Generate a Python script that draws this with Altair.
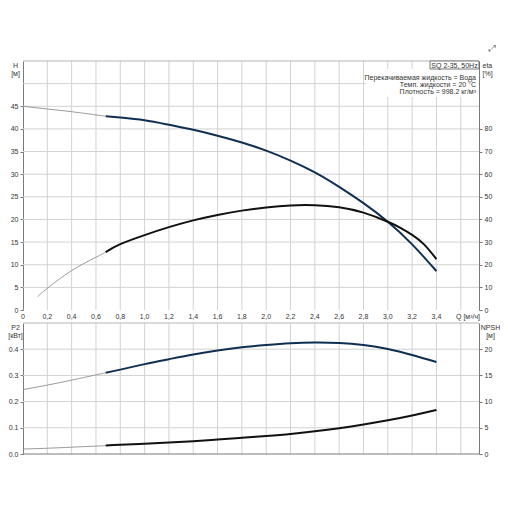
import altair as alt
import pandas as pd

# ---------------- data ----------------
Q_H = [0.0, 0.2, 0.4, 0.6, 0.68, 0.8, 1.0, 1.2, 1.4, 1.6, 1.8, 2.0, 2.2, 2.4, 2.6, 2.8, 3.0, 3.2, 3.4]
H_M = [45.0, 44.4, 43.8, 43.1, 42.8, 42.5, 41.9, 40.9, 39.8, 38.5, 37.0, 35.2, 33.0, 30.4, 27.2, 23.6, 19.5, 14.5, 8.6]

Q_ETA = [0.12, 0.2, 0.4, 0.6, 0.68, 0.8, 1.0, 1.2, 1.4, 1.6, 1.8, 2.0, 2.2, 2.4, 2.6, 2.8, 3.0, 3.1, 3.2, 3.3, 3.4]
ETA = [5.9, 9.6, 17.4, 23.3, 25.6, 29.1, 33.1, 36.6, 39.6, 42.0, 43.9, 45.3, 46.2, 46.3, 45.4, 43.0, 39.0, 36.4, 33.2, 28.9, 22.5]

Q_P = [0.0, 0.2, 0.4, 0.6, 0.68, 0.8, 1.0, 1.2, 1.4, 1.6, 1.8, 2.0, 2.2, 2.4, 2.6, 2.8, 3.0, 3.2, 3.4]
P2_KW = [0.246, 0.263, 0.282, 0.302, 0.310, 0.322, 0.343, 0.362, 0.380, 0.395, 0.407, 0.416, 0.423, 0.426, 0.424, 0.416, 0.401, 0.378, 0.351]
NPSH_M = [0.95, 1.1, 1.3, 1.5, 1.6, 1.75, 1.95, 2.2, 2.45, 2.75, 3.08, 3.43, 3.82, 4.33, 4.93, 5.63, 6.43, 7.35, 8.4]

Q_OPERATING_START = 0.68

Q_GRID = [round(i * 0.2, 1) for i in range(1, 19)]      # 0.2 .. 3.6
Q_TICKS = [round(i * 0.2, 1) for i in range(0, 19)]     # 0 .. 3.6
Q_LABEL_POS = [round(i * 0.2, 1) for i in range(0, 18)]  # 0 .. 3.4
Q_LABELS = ["0", "0,2", "0,4", "0,6", "0,8", "1,0", "1,2", "1,4", "1,6", "1,8",
            "2,0", "2,2", "2,4", "2,6", "2,8", "3,0", "3,2", "3,4"]
H_GRID = [5, 10, 15, 20, 25, 30, 35, 40, 45, 50]
H_TICKS = [0, 5, 10, 15, 20, 25, 30, 35, 40, 45]
ETA_TICKS = [0, 10, 20, 30, 40, 50, 60, 70, 80]
P_GRID = [0.1, 0.2, 0.3, 0.4]
P_TICKS = [0.0, 0.1, 0.2, 0.3, 0.4]
NPSH_TICKS = [0, 5, 10, 15, 20]

TITLE_BOX = "SQ 2-35, 50Hz"
INFO = "Перекачиваемая жидкость = Вода\nТемп. жидкости = 20 °C\nПлотность = 998.2 кг/м³"

# ---------------- styling ----------------
FONT = "Liberation Sans"
FS = 7
GRID_C = "#d2d2d2"
AXIS_C = "#7a7a7a"
LABEL_C = "#333333"
NAVY = "#0f2f52"
BLACK = "#111111"
THIN_C = "#8f8f8f"

W, H = 456, 393
TOP_H = 249
BOT_TOP = 262

QMAX = 3.75


def xsc():
    return alt.Scale(domain=[0, QMAX], nice=False, zero=False)


def hs():
    return alt.Scale(domain=[0, 55], range=[TOP_H, 0], nice=False, zero=False)


def es():
    return alt.Scale(domain=[0, 110], range=[TOP_H, 0], nice=False, zero=False)


def ps():
    return alt.Scale(domain=[0, 0.5], range=[H, BOT_TOP], nice=False, zero=False)


def ns():
    return alt.Scale(domain=[0, 25], range=[H, BOT_TOP], nice=False, zero=False)


axis_common = dict(grid=False, tickSize=3, labelPadding=2, domainColor=AXIS_C, tickColor=AXIS_C,
                   labelFontSize=FS, labelColor=LABEL_C, labelFont=FONT, titleFont=FONT,
                   titleFontSize=FS, titleFontWeight="normal", titleColor=LABEL_C,
                   titleAngle=0, titleBaseline="top", titleLineHeight=8)

x_axis = alt.Axis(values=Q_TICKS, orient="bottom", offset=-(H - TOP_H), title=None, labels=False,
                  grid=False, tickSize=3, domainColor=AXIS_C, tickColor=AXIS_C)

h_axis = alt.Axis(values=H_TICKS, orient="left", title=["H", "[м]"], titleAlign="center", titleX=-8, titleY=0, **axis_common)
e_axis = alt.Axis(values=ETA_TICKS, orient="right", title=["eta", "[%]"], titleAlign="left", titleX=3, titleY=0, **axis_common)
p_axis = alt.Axis(values=P_TICKS, orient="left", format=".1f", title=["P2", "[кВт]"], titleAlign="center", titleX=-8, titleY=BOT_TOP, **axis_common)
n_axis = alt.Axis(values=NPSH_TICKS, orient="right", title=["NPSH", "[м]"], titleAlign="center", titleX=11, titleY=BOT_TOP, **axis_common)


def curve(q, v, field, scale_fn, axis, color, with_x_axis=False):
    df = pd.DataFrame({"Q": q, field: v})
    thin = df[df["Q"] <= Q_OPERATING_START]
    thick = df[df["Q"] >= Q_OPERATING_START]
    thin_l = alt.Chart(thin).mark_line(color=THIN_C, strokeWidth=0.9, interpolate="natural").encode(
        x=alt.X("Q:Q", scale=xsc(), axis=None),
        y=alt.Y(f"{field}:Q", scale=scale_fn(), axis=None),
    )
    thick_l = alt.Chart(thick).mark_line(color=color, strokeWidth=2, interpolate="natural").encode(
        x=alt.X("Q:Q", scale=xsc(), axis=x_axis if with_x_axis else None),
        y=alt.Y(f"{field}:Q", scale=scale_fn(), axis=axis),
    )
    return thin_l, thick_l


def vgrid(scale_fn, lo, hi):
    df = pd.DataFrame({"Q": Q_GRID, "lo": [lo] * len(Q_GRID), "hi": [hi] * len(Q_GRID)})
    return alt.Chart(df).mark_rule(color=GRID_C, strokeWidth=1).encode(
        x=alt.X("Q:Q", scale=xsc(), axis=None),
        y=alt.Y("lo:Q", scale=scale_fn(), axis=None),
        y2="hi:Q",
    )


def hgrid(scale_fn, vals, color=GRID_C):
    df = pd.DataFrame({"v": vals, "x0": [0.0] * len(vals), "x1": [QMAX] * len(vals)})
    return alt.Chart(df).mark_rule(color=color, strokeWidth=1).encode(
        y=alt.Y("v:Q", scale=scale_fn(), axis=None),
        x=alt.X("x0:Q", scale=xsc(), axis=None),
        x2="x1:Q",
    )


one = pd.DataFrame({"a": [0]})

h_thin, h_thick = curve(Q_H, H_M, "H", hs, h_axis, NAVY, with_x_axis=True)
e_thin, e_thick = curve(Q_ETA, ETA, "eta", es, e_axis, BLACK)
p_thin, p_thick = curve(Q_P, P2_KW, "P2", ps, p_axis, NAVY)
n_thin, n_thick = curve(Q_P, NPSH_M, "NPSH", ns, n_axis, BLACK)

x_labels = alt.Chart(pd.DataFrame({"Q": Q_LABEL_POS, "lab": Q_LABELS})).mark_text(
    align="center", baseline="middle", font=FONT, fontSize=FS, color=LABEL_C).encode(
    x=alt.X("Q:Q", scale=xsc(), axis=None), y=alt.value(TOP_H + 7), text="lab:N")

info_bg = alt.Chart(one).mark_rect(fill="white").encode(
    x=alt.value(343), x2=alt.value(455), y=alt.value(8), y2=alt.value(36))
info_txt = alt.Chart(one).mark_text(align="right", baseline="middle", font=FONT, fontSize=FS,
                                    color=LABEL_C, lineBreak="\n", lineHeight=7.4).encode(
    x=alt.value(453), y=alt.value(16.7), text=alt.value(INFO))
box = alt.Chart(one).mark_rect(fill="white", stroke="#555555", strokeWidth=0.8).encode(
    x=alt.value(407), x2=alt.value(456), y=alt.value(0), y2=alt.value(8))
box_txt = alt.Chart(one).mark_text(align="center", baseline="middle", font=FONT, fontSize=FS,
                                   color=LABEL_C).encode(
    x=alt.value(431.5), y=alt.value(4.5), text=alt.value(TITLE_BOX))
q_txt = alt.Chart(one).mark_text(align="left", baseline="middle", font=FONT, fontSize=FS,
                                 color=LABEL_C).encode(
    x=alt.value(433), y=alt.value(TOP_H + 7), text=alt.value("Q [м³/ч]"))
icon = alt.Chart(one).mark_text(align="center", baseline="middle", font="DejaVu Sans", fontSize=9,
                                color="#777777").encode(
    x=alt.value(469), y=alt.value(-13), text=alt.value("⤢"))

layers = [
    vgrid(hs, 0, 55), hgrid(hs, H_GRID), hgrid(hs, [55], color="#b5b5b5"),
    vgrid(ps, 0, 0.5), hgrid(ps, P_GRID), hgrid(ps, [0.5], color="#b5b5b5"), hgrid(ps, [0.0], color=AXIS_C),
    info_bg, info_txt, box, box_txt, q_txt, icon, x_labels,
    h_thin, h_thick, e_thin, e_thick, p_thin, p_thick, n_thin, n_thick,
]

chart = alt.layer(*layers).resolve_scale(y="independent").resolve_axis(y="independent").properties(
    width=W, height=H,
    autosize=alt.AutoSizeParams(type="none"),
    padding={"left": 15, "top": 53, "right": 21, "bottom": 20},
    background="white",
).configure_view(strokeWidth=0)

chart.save("out.html", embed_options={"renderer": "svg", "actions": False})
